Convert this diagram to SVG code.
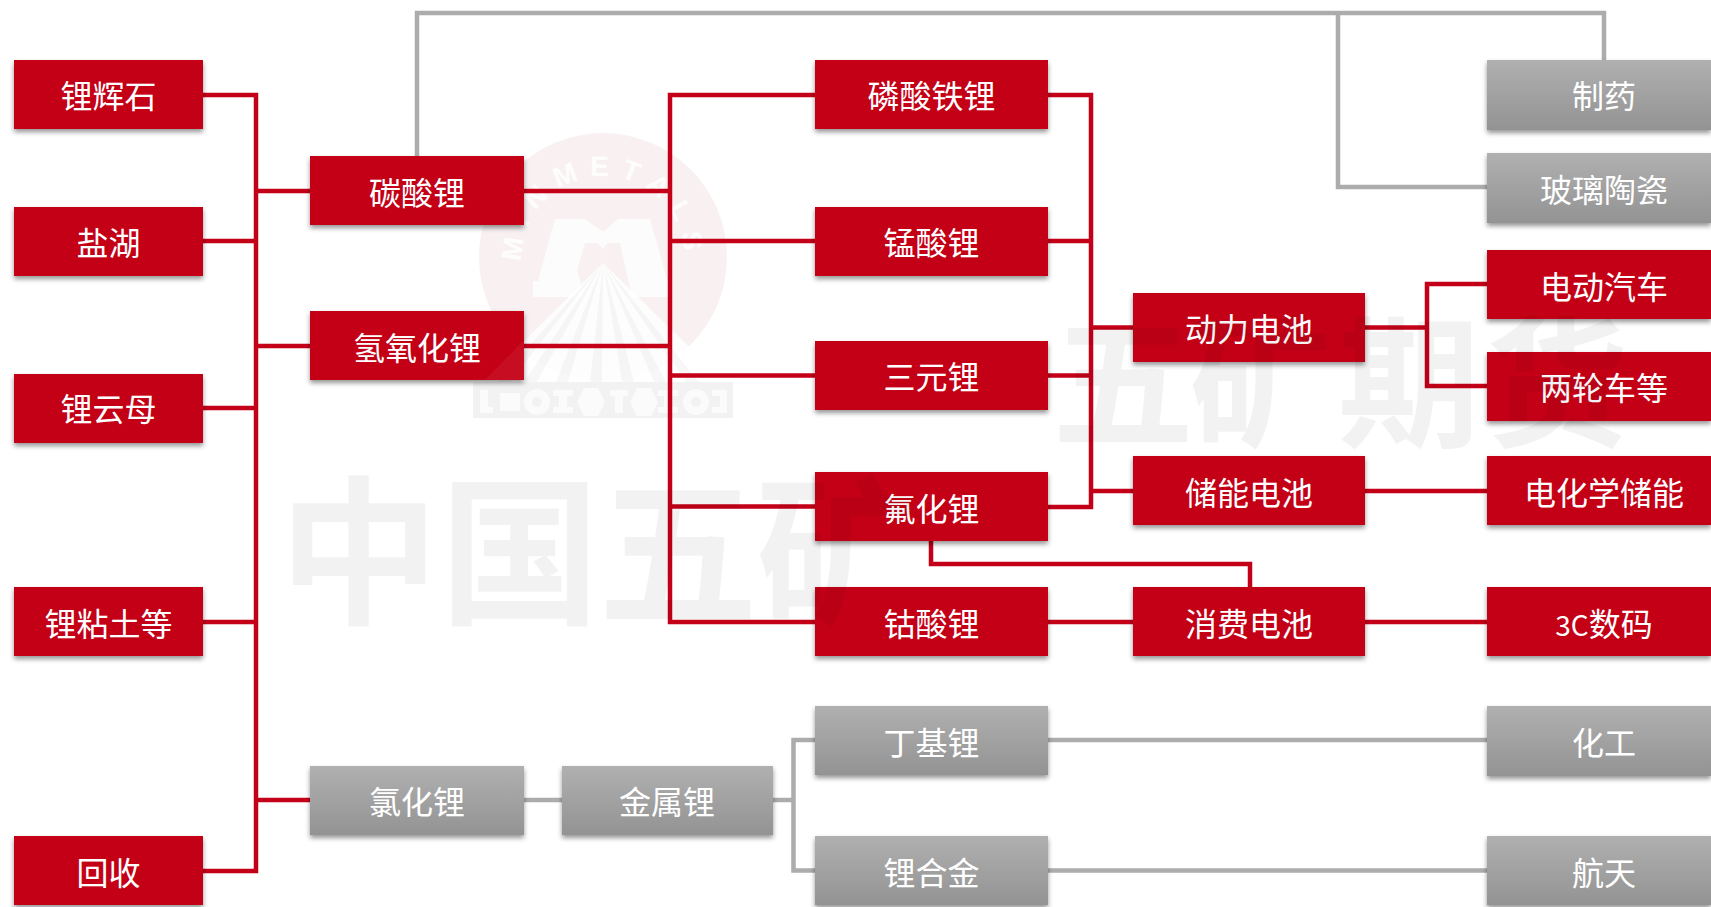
<svg xmlns="http://www.w3.org/2000/svg" width="1711" height="907" viewBox="0 0 1711 907">
<style>
.t{font-family:"Noto Sans CJK SC","Noto Sans",sans-serif;font-size:32px;fill:#fff;text-anchor:middle}
.r{fill:#c40018;filter:url(#s)}
.g{fill:url(#gg);filter:url(#s)}
.cr{fill:none;stroke:#c40018;stroke-width:4.500}
.cg{fill:none;stroke:#acacac;stroke-width:4.500}
.wm{font-family:"Noto Sans CJK SC",sans-serif;font-weight:700;fill:#000;fill-opacity:.05}
.lg{font-family:"Liberation Sans",sans-serif;font-weight:700;font-size:28px;fill:#fff;letter-spacing:11px}
.lw{fill:#fff;fill-opacity:.65}
.lo{fill:none;stroke:#fff;stroke-opacity:.65;stroke-width:8}
</style>
<defs>
<linearGradient id="gg" x1="0" y1="0" x2="0" y2="1"><stop offset="0" stop-color="#b0b0b0"/><stop offset="1" stop-color="#939393"/></linearGradient>
<filter id="s" x="-5%" y="-10%" width="110%" height="130%"><feDropShadow dx="0" dy="3" stdDeviation="2.500" flood-color="#000" flood-opacity=".42"/></filter>
<path id="arc" d="M523.200 271A81 81 0 1 1 682.800 271"/>
</defs>
<rect width="1711" height="907" fill="#fff"/>
<g id="logo">
<circle cx="603" cy="257" r="124" fill="#a8323c" fill-opacity=".07"/>
<text class="lg" fill-opacity=".9"><textPath href="#arc" startOffset="50%" text-anchor="middle">MINMETALS</textPath></text>
<path d="M555 219H585L603 232L618 219H650L672 297H632L620 243H608L603 249L598 243H585L577 270L585 297H533V281H538Z" fill="#fcfcfc"/>
<path d="M603 263L483 382H725Z" fill="#fff" fill-opacity=".85"/>
<path d="M603 263L497 382H510ZM603 263L524 382H537ZM603 263L556 382H568ZM603 263L590 382H602ZM603 263L622 382H634ZM603 263L654 382H666ZM603 263L686 382H699Z" fill="#000" fill-opacity=".03"/>
<rect x="473" y="382" width="260" height="36" fill="#000" fill-opacity=".05"/>
<path class="lw" d="M480 390h8v17h5v6h-13zM500 393h20v18h-20zM553 390h20v6h-6v11h6v6h-20v-6h6v-11h-6zM610 390h18v6h-5v17h-8v-17h-5zM658 390h20v6h-6v11h6v6h-20v-6h6v-11h-6zM712 390h15v23h-15v-6h8v-11h-8z"/>
<circle class="lo" cx="537" cy="402" r="9"/><circle class="lo" cx="696" cy="402" r="9"/>
<path class="lw" d="M584 388h14l7 14l-7 14h-14l-7-14zM637 388h14l7 14l-7 14h-14l-7-14z"/>
</g>
<g id="connectors">
<path class="cg" d="M417 156V13H1604V60M1338 13V187H1487M524 800H562M773 800H793M815 740H793.500V870.500H815M1048 740H1487M1048 870.500H1487"/>
<path class="cr" d="M203 95H256V871H203M203 241H256M203 408H256M203 622H256M256 191H310M256 346H310M256 800H310M524 191H670M524 346H670M815 95H670V622H815M670 241H815M670 375.500H815M670 506.500H815M1048 95H1091V507H1048M1048 241H1091M1048 375.500H1091M1091 327.500H1133M1091 491H1133M1365 327.500H1427M1487 284H1427V386H1487M1365 491H1487M1048 622H1133M1365 622H1487M931 541V564H1250V587"/>
</g>
<g id="n1"><rect class="r" x="14" y="60" width="189" height="69"/><text class="t" x="108.500" y="108">锂辉石</text></g>
<g id="n2"><rect class="r" x="14" y="207" width="189" height="69"/><text class="t" x="108.500" y="255">盐湖</text></g>
<g id="n3"><rect class="r" x="14" y="374" width="189" height="69"/><text class="t" x="108.500" y="421">锂云母</text></g>
<g id="n4"><rect class="r" x="14" y="587" width="189" height="69"/><text class="t" x="108.500" y="636">锂粘土等</text></g>
<g id="n5"><rect class="r" x="14" y="836" width="189" height="69"/><text class="t" x="108.500" y="885">回收</text></g>
<g id="n6"><rect class="r" x="310" y="156" width="214" height="69"/><text class="t" x="417" y="205">碳酸锂</text></g>
<g id="n7"><rect class="r" x="310" y="311" width="214" height="69"/><text class="t" x="417" y="360">氢氧化锂</text></g>
<g id="n8"><rect class="g" x="310" y="766" width="214" height="69"/><text class="t" x="417" y="814">氯化锂</text></g>
<g id="n9"><rect class="g" x="562" y="766" width="211" height="69"/><text class="t" x="667" y="814">金属锂</text></g>
<g id="n10"><rect class="r" x="815" y="60" width="233" height="69"/><text class="t" x="931.500" y="108">磷酸铁锂</text></g>
<g id="n11"><rect class="r" x="815" y="207" width="233" height="69"/><text class="t" x="931.500" y="255">锰酸锂</text></g>
<g id="n12"><rect class="r" x="815" y="341" width="233" height="69"/><text class="t" x="931.500" y="389">三元锂</text></g>
<g id="n13"><rect class="r" x="815" y="472" width="233" height="69"/><text class="t" x="931.500" y="521">氟化锂</text></g>
<g id="n14"><rect class="r" x="815" y="587" width="233" height="69"/><text class="t" x="931.500" y="636">钴酸锂</text></g>
<g id="n15"><rect class="g" x="815" y="706" width="233" height="69"/><text class="t" x="931.500" y="755">丁基锂</text></g>
<g id="n16"><rect class="g" x="815" y="836" width="233" height="69"/><text class="t" x="931.500" y="885">锂合金</text></g>
<g id="n17"><rect class="r" x="1133" y="293" width="232" height="69"/><text class="t" x="1249" y="341">动力电池</text></g>
<g id="n18"><rect class="r" x="1133" y="456" width="232" height="69"/><text class="t" x="1249" y="505">储能电池</text></g>
<g id="n19"><rect class="r" x="1133" y="587" width="232" height="69"/><text class="t" x="1249" y="636">消费电池</text></g>
<g id="n20"><rect class="g" x="1487" y="60" width="224" height="70"/><text class="t" x="1604" y="108">制药</text></g>
<g id="n21"><rect class="g" x="1487" y="153" width="224" height="70"/><text class="t" x="1604" y="202">玻璃陶瓷</text></g>
<g id="n22"><rect class="r" x="1487" y="250" width="224" height="69"/><text class="t" x="1604" y="299">电动汽车</text></g>
<g id="n23"><rect class="r" x="1487" y="352" width="224" height="69"/><text class="t" x="1604" y="400">两轮车等</text></g>
<g id="n24"><rect class="r" x="1487" y="456" width="224" height="69"/><text class="t" x="1604" y="505">电化学储能</text></g>
<g id="n25"><rect class="r" x="1487" y="587" width="224" height="69"/><text class="t" x="1604" y="636"><tspan font-size="28">3C</tspan>数码</text></g>
<g id="n26"><rect class="g" x="1487" y="706" width="224" height="70"/><text class="t" x="1604" y="755">化工</text></g>
<g id="n27"><rect class="g" x="1487" y="836" width="224" height="69"/><text class="t" x="1604" y="885">航天</text></g>
<g id="watermark">
<text class="wm" font-size="160" x="279 440 598 756" y="612">中国五矿</text>
<text class="wm" font-size="142" x="1052 1189 1338 1486" y="436">五矿期货</text>
<path d="M524 340V380H485Z" fill="#fff" fill-opacity=".05"/>
</g>
</svg>
